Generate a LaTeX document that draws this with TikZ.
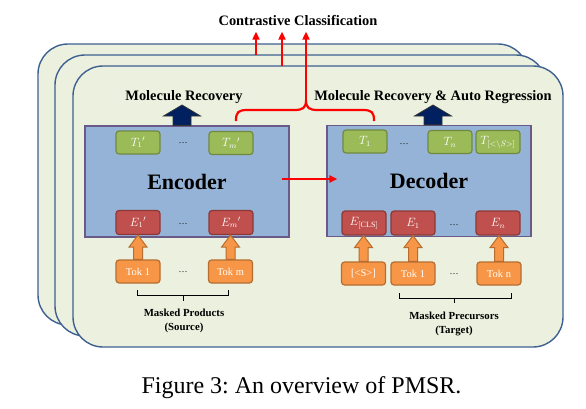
\documentclass[tikz,border=0pt]{standalone}
\usepackage{fontspec}
\setmainfont{Liberation Serif}
\usetikzlibrary{positioning}
\usetikzlibrary{arrows.meta,calc}
\frenchspacing

\definecolor{panelfill}{RGB}{235,241,222}
\definecolor{panelline}{RGB}{62,96,145}
\definecolor{blockfill}{RGB}{149,179,215}
\definecolor{blockline}{RGB}{106,90,138}
\definecolor{outfill}{RGB}{155,187,89}
\definecolor{outdraw}{RGB}{113,137,63}
\definecolor{embfill}{RGB}{192,80,77}
\definecolor{embdraw}{RGB}{140,56,54}
\definecolor{tokfill}{RGB}{247,150,70}
\definecolor{tokdraw}{RGB}{182,109,49}
\definecolor{navyfill}{RGB}{0,32,96}

\newcommand\blockarrow[6]{%
  \draw[#1] let \p1=(#2), \p2=(#3) in
    (\x1-#4,\y1) -- (\x1-#4,\y2-#6) -- (\x1-#5,\y2-#6) -- (\x1,\y2)
    -- (\x1+#5,\y2-#6) -- (\x1+#4,\y2-#6) -- (\x1+#4,\y1) -- cycle;}

\begin{document}
\begin{tikzpicture}[x=1pt,y=-1pt,
        panel/.style={draw=panelline,fill=panelfill,line width=1.4pt,rounded corners=30pt},
        block/.style={rectangle,draw=blockline,fill=blockfill,line width=1.3pt,minimum width=204pt,minimum height=111pt,font=\fontsize{22}{26}\selectfont\bfseries},
        outbox/.style={rectangle,rounded corners=3pt,draw=outdraw,fill=outfill,line width=1.2pt,minimum width=44pt,minimum height=23pt,inner sep=0pt,text=white,font=\fontsize{11.5}{13}\selectfont},
        embbox/.style={outbox,draw=embdraw,fill=embfill,minimum height=24pt},
        tokbox/.style={outbox,draw=tokdraw,fill=tokfill,font=\fontsize{10.5}{12}\selectfont},
        dots/.style={inner sep=0pt,font=\fontsize{9}{10}\selectfont},
        head/.style={font=\fontsize{14.4}{16}\selectfont\bfseries,anchor=base},
        sublbl/.style={align=center,font=\fontsize{10.8}{14}\selectfont\bfseries},
        arr/.style={red,line width=2.2pt,-{Triangle[width=7pt,length=8pt]}},
        redline/.style={red,line width=2.2pt},
        navyarr/.style={draw=black!80,fill=navyfill,line width=0.8pt},
        tokarr/.style={draw=tokdraw,fill=tokfill,line width=1pt}
        ]
        \useasboundingbox (0,0) rectangle (586,408);
        \draw[panel] (38,44) rectangle (528,325);
        \draw[panel] (55,55) rectangle (546,336);
        \draw[panel] (73,66) rectangle (563,347);

        \node (cc)  [head] at (298,25)  {Contrastive Classification};
        \node (mrl) [head] at (184,100) {Molecule Recovery};
        \node (mrr) [head] at (433,100) {Molecule Recovery \& Auto Regression};

        \node (enc) [block] at (187,181.5) {Encoder};
        \node (dec) [block] at (429,181) {Decoder};

        \node (t1p) [outbox] at (138,142.5) {$T_1{}'$};
        \node (tdl) [dots]   at (183,143)   {\dots};
        \node (tmp) [outbox] at (231,143)   {$T_m{}'$};
        \node (t1)  [outbox] at (365,141.5) {$T_1$};
        \node (tdr) [dots]   at (404,144)   {\dots};
        \node (tn)  [outbox] at (450,142)   {$T_n$};
        \node (tend)[outbox] at (498,142)   {$T_{[<\backslash S>]}$};

        \node (e1p) [embbox] at (138,222.5) {$E_1{}'$};
        \node (edl) [dots]   at (183,224)   {\dots};
        \node (emp) [embbox] at (231,222.5) {$E_m{}'$};
        \node (ecls)[embbox] at (364,223)   {$E_{[\mathrm{CLS}]}$};
        \node (e1)  [embbox] at (413,223)   {$E_1$};
        \node (edr) [dots]   at (454,225)   {\dots};
        \node (en)  [embbox] at (498,223)   {$E_n$};

        \node (tk1l)[tokbox] at (138,271.5) {Tok 1};
        \node (kdl) [dots]   at (183,272)   {\dots};
        \node (tkm) [tokbox] at (230.5,271.5) {Tok m};
        \node (tks) [tokbox] at (363.5,273.5) {[<S>]};
        \node (tk1r)[tokbox] at (413,273.5) {Tok 1};
        \node (kdr) [dots]   at (454,274)   {\dots};
        \node (tkn) [tokbox] at (499,273.5) {Tok n};

        \blockarrow{tokarr}{tk1l.north}{e1p.south}{4.5pt}{9pt}{12pt}
        \blockarrow{tokarr}{tkm.north}{emp.south}{4.5pt}{9pt}{12pt}
        \blockarrow{tokarr}{tks.north}{ecls.south}{4.5pt}{9pt}{12pt}
        \blockarrow{tokarr}{tk1r.north}{e1.south}{4.5pt}{9pt}{12pt}
        \blockarrow{tokarr}{tkn.north}{en.south}{4.5pt}{9pt}{12pt}

        \coordinate (upl) at (182,105);
        \coordinate (upr) at (433,105);
        \blockarrow{navyarr}{enc.north -| upl}{upl}{9pt}{18.5pt}{11pt}
        \blockarrow{navyarr}{dec.north -| upr}{upr}{9pt}{18.5pt}{11pt}

        \draw (137,290) -- (137,295) -- (228,295) -- (228,290) (183,295) -- (183,301);
        \draw (399,293) -- (399,298) -- (511,298) -- (511,293) (454,298) -- (454,303);
        \node (mp) [sublbl] at (184,321)   {Masked Products\\(Source)};
        \node (mq) [sublbl] at (454,324)   {Masked Precursors\\(Target)};

        \draw[arr] ($(enc.east)+(-8,-2.5)$) -- ($(dec.west)+(11,-2)$);

        \coordinate (bt) at (306,100);
        \draw[redline] (236,121) .. controls (236,112) and (238,110) .. (248,110) -- (294,110)
            .. controls (303,110) and (306,108) .. (bt)
            .. controls (306,108) and (309,110) .. (318,110) -- (362,110)
            .. controls (372,110) and (374,112) .. (374,121);
        \coordinate (c1) at (256,55);
        \coordinate (c2) at (282,66);
        \draw[arr,shorten >=3pt] (c1) -- (c1 |- cc.south);
        \draw[arr,shorten >=3pt] (c2) -- (c2 |- cc.south);
        \draw[arr,shorten >=3pt] (bt) -- (bt |- cc.south);

        \node (cap) [font=\fontsize{24}{28}\selectfont,anchor=base] at (301.5,393) {Figure 3: An overview of PMSR.};
    \end{tikzpicture}
\end{document}
